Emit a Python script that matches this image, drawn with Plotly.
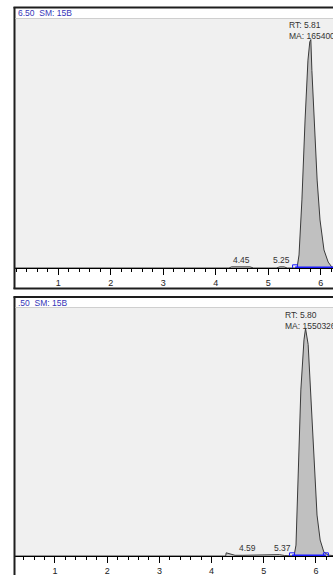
import plotly.graph_objects as go

W, H = 333, 575

# ---- data ----
top_header = "6.50  SM: 15B"
bot_header = ".50  SM: 15B"

top_rt = [0.1, 4.25, 4.30, 4.45, 4.65, 4.72, 5.15, 5.22, 5.30, 5.36, 5.547, 5.585, 5.64, 5.70,
          5.755, 5.79, 5.81, 5.83, 5.87, 5.93, 5.985, 6.06, 6.14, 6.21, 6.40]
top_int = [0, 0, 0.5, 0.6, 0.5, 0, 0, 0.5, 0.5, 0, 0, 5.7, 29.8, 64.8,
           91, 99, 100, 86.5, 64.8, 38.5, 21, 7.9, 2.6, 0.4, 0]

bot_rt = [0.1, 4.27, 4.28, 4.45, 4.60, 4.80, 5.20, 5.30, 5.40, 5.58, 5.617, 5.655, 5.71,
          5.77, 5.80, 5.85, 5.905, 5.96, 6.02, 6.08, 6.15, 6.23, 6.40]
bot_int = [0, 0, 1.4, 0.3, 0.3, 0.3, 0.3, 0.6, 0.2, 0, 4.8, 33, 73,
           95, 100, 93, 68.6, 42, 18, 7, 1.8, 0.4, 0]

top_apex = {"rt": "5.81", "ma": "1654001"}
bot_apex = {"rt": "5.80", "ma": "1550326"}

top_minor_labels = [("4.45", 4.49), ("5.25", 5.255)]
bot_minor_labels = [("4.59", 4.69), ("5.37", 5.36)]

top_base = [5.51, 6.40]
bot_base = [5.54, 6.19]

top_xrange = [0.175, 6.232]
bot_xrange = [0.234, 6.326]
y_range = [0, 109]
tick_vals = [1, 2, 3, 4, 5, 6]


def px(x):
    return x / W


def py(y):
    return 1 - y / H


FONT = "Liberation Sans, Arial, sans-serif"

fig = go.Figure()

for rt, inten, xa, ya in [(top_rt, top_int, "x", "y"), (bot_rt, bot_int, "x2", "y2")]:
    fig.add_trace(go.Scatter(x=rt, y=inten, mode="lines", xaxis=xa, yaxis=ya,
                             line=dict(color="#3a3a3a", width=1),
                             fill="tozeroy", fillcolor="#c0c0c0",
                             hoverinfo="skip", showlegend=False))

for base, xa, ya in [(top_base, "x", "y"), (bot_base, "x2", "y2")]:
    fig.add_trace(go.Scatter(x=base, y=[0.3, 0.3], mode="lines+markers", xaxis=xa, yaxis=ya,
                             line=dict(color="#1a1aff", width=1.5),
                             marker=dict(symbol="square-open", size=5,
                                         color="#1a1aff", line=dict(width=1)),
                             hoverinfo="skip", showlegend=False))

axis_common = dict(showline=True, linecolor="#000000", linewidth=1, mirror=False,
                   ticks="outside", ticklen=6, tickcolor="#000000", tickwidth=1,
                   tickvals=tick_vals, showgrid=False, zeroline=False,
                   tickfont=dict(family=FONT, size=9, color="#222222"),
                   minor=dict(ticks="outside", dtick=0.2, tick0=0, ticklen=3,
                              tickcolor="#000000", showgrid=False),
                   fixedrange=True)

fig.update_layout(
    width=W, height=H,
    margin=dict(l=0, r=0, t=0, b=0),
    paper_bgcolor="#ffffff", plot_bgcolor="#f0f0f0",
    hovermode=False,
    xaxis=dict(domain=[px(15), 1], range=top_xrange, anchor="y", **axis_common),
    yaxis=dict(domain=[py(268), py(19)], range=y_range, visible=False, fixedrange=True),
    xaxis2=dict(domain=[px(15), 1], range=bot_xrange, anchor="y2", **axis_common),
    yaxis2=dict(domain=[py(556), py(308)], range=y_range, visible=False, fixedrange=True),
)

# panel frames
shapes = []
dark = "#1e1e1e"
shapes.append(dict(type="line", xref="paper", yref="paper", x0=px(13.5), x1=1.0,
                   y0=py(7.5), y1=py(7.5), line=dict(color=dark, width=2)))
shapes.append(dict(type="line", xref="paper", yref="paper", x0=px(14.5), x1=px(14.5),
                   y0=py(7), y1=py(289), line=dict(color=dark, width=2)))
shapes.append(dict(type="line", xref="paper", yref="paper", x0=px(13.5), x1=1.0,
                   y0=py(288.5), y1=py(288.5), line=dict(color=dark, width=2)))
shapes.append(dict(type="line", xref="paper", yref="paper", x0=px(15.5), x1=1.0,
                   y0=py(18.5), y1=py(18.5), line=dict(color="#cfcfcf", width=1)))
shapes.append(dict(type="line", xref="paper", yref="paper", x0=px(13.5), x1=1.0,
                   y0=py(297), y1=py(297), line=dict(color=dark, width=2)))
shapes.append(dict(type="line", xref="paper", yref="paper", x0=px(14.5), x1=px(14.5),
                   y0=py(296.5), y1=py(576), line=dict(color=dark, width=2)))
shapes.append(dict(type="line", xref="paper", yref="paper", x0=px(15.5), x1=1.0,
                   y0=py(307.5), y1=py(307.5), line=dict(color="#cfcfcf", width=1)))
fig.update_layout(shapes=shapes)

annos = []
annos.append(dict(text=top_header, xref="paper", yref="paper", x=px(15.5), y=py(13.5),
                  xanchor="left", yanchor="middle", showarrow=False,
                  font=dict(family=FONT, size=8.5, color="#3535b8")))
annos.append(dict(text=bot_header, xref="paper", yref="paper", x=px(15.5), y=py(302.5),
                  xanchor="left", yanchor="middle", showarrow=False,
                  font=dict(family=FONT, size=8.5, color="#3535b8")))

annos.append(dict(text=f"RT: {top_apex['rt']}<br>MA: {top_apex['ma']}", xref="x", yref="paper",
                  x=5.36, y=py(18), xanchor="left", yanchor="top", align="left",
                  showarrow=False, font=dict(family=FONT, size=8.5, color="#333333")))
annos.append(dict(text=f"RT: {bot_apex['rt']}<br>MA: {bot_apex['ma']}", xref="x2", yref="paper",
                  x=5.37, y=py(307.5), xanchor="left", yanchor="top", align="left",
                  showarrow=False, font=dict(family=FONT, size=8.5, color="#333333")))

for lab, xv in top_minor_labels:
    annos.append(dict(text=lab, xref="x", yref="y", x=xv, y=0, xanchor="center",
                      yanchor="bottom", yshift=1, showarrow=False,
                      font=dict(family=FONT, size=8.5, color="#333333")))
for lab, xv in bot_minor_labels:
    annos.append(dict(text=lab, xref="x2", yref="y2", x=xv, y=0, xanchor="center",
                      yanchor="bottom", yshift=1, showarrow=False,
                      font=dict(family=FONT, size=8.5, color="#333333")))
fig.update_layout(annotations=annos)

fig.write_html(
    "out.html",
    config={"displayModeBar": False, "staticPlot": True},
    post_script="document.body.style.margin='0px';"
                "document.documentElement.style.overflow='hidden';"
                "document.body.style.overflow='hidden';",
)
